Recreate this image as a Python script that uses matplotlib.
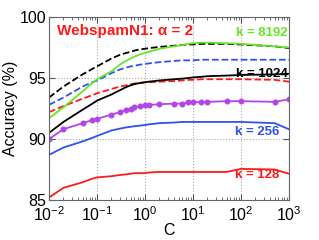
import numpy as np
import matplotlib
matplotlib.use("Agg")
import matplotlib.pyplot as plt

plt.rcParams['font.family'] = ['Liberation Sans', 'DejaVu Sans']
plt.rcParams['mathtext.fontset'] = 'custom'
plt.rcParams['mathtext.rm'] = 'Liberation Sans'
plt.rcParams['mathtext.it'] = 'Liberation Sans:italic'

# C values (log scale)
C = [0.01, 0.02, 0.05, 0.08, 0.1, 0.2, 0.3, 0.4, 0.5, 0.6, 0.8, 1, 1.2, 2,
     4, 6, 8, 10, 15, 20, 50, 100, 500, 1000]

# solid curves
acc_128 = [85.2, 86.0, 86.45, 86.75, 86.85, 86.95, 87.05, 87.1, 87.15, 87.2, 87.2, 87.2,
           87.25, 87.3, 87.3, 87.3, 87.3, 87.3, 87.3, 87.3, 87.3, 87.55, 87.5, 87.15]
acc_256 = [88.7, 89.3, 89.8, 90.1, 90.25, 90.7, 90.85, 90.95, 91.0, 91.05, 91.1, 91.15,
           91.2, 91.3, 91.35, 91.4, 91.4, 91.4, 91.4, 91.4, 91.4, 91.4, 91.3, 90.8]
acc_512 = [90.0, 90.8, 91.3, 91.55, 91.65, 92.0, 92.2, 92.4, 92.5, 92.6, 92.7, 92.75,
           92.8, 92.85, 92.9, 92.9, 93.0, 93.0, 93.05, 93.05, 93.1, 93.1, 93.05, 93.25]
acc_1024 = [90.5, 91.4, 92.4, 92.9, 93.15, 93.65, 94.0, 94.25, 94.4, 94.5, 94.6, 94.65,
            94.7, 94.8, 94.9, 94.95, 95.0, 95.05, 95.1, 95.15, 95.2, 95.25, 95.3, 95.35]
acc_8192 = [91.7, 92.6, 93.9, 94.6, 94.9, 95.55, 96.1, 96.4, 96.6, 96.75, 96.95, 97.05,
            97.15, 97.4, 97.6, 97.7, 97.8, 97.85, 97.9, 97.9, 97.85, 97.8, 97.6, 97.5]

# dashed curves
dash_red = [92.2, 92.7, 93.3, 93.6, 93.75, 94.1, 94.3, 94.4, 94.5, 94.55, 94.6, 94.65,
            94.65, 94.7, 94.75, 94.8, 94.85, 94.85, 94.9, 94.9, 94.9, 94.9, 94.85, 94.7]
dash_blue = [92.8, 93.4, 94.3, 94.65, 94.8, 95.4, 95.7, 95.85, 95.95, 96.0, 96.1, 96.15,
             96.2, 96.3, 96.4, 96.45, 96.45, 96.45, 96.5, 96.5, 96.5, 96.5, 96.5, 96.5]
dash_black = [93.4, 94.3, 95.3, 95.75, 95.95, 96.6, 96.9, 97.05, 97.15, 97.25, 97.35, 97.4,
              97.45, 97.55, 97.65, 97.7, 97.75, 97.75, 97.8, 97.8, 97.8, 97.75, 97.6, 97.45]

red = '#ff1a1a'
blue = '#2f52f0'
green = '#66e626'
purple = '#b246e8'

fig = plt.figure(figsize=(3.19, 2.4), dpi=100)
ax = fig.add_axes([0.1536, 0.1667, 0.7524, 0.7623])

ax.plot(C, dash_black, '--', color='black', lw=1.3)
ax.plot(C, dash_blue, '--', color=blue, lw=1.3)
ax.plot(C, dash_red, '--', color=red, lw=1.3)
ax.plot(C, acc_128, '-', color=red, lw=1.3)
ax.plot(C, acc_256, '-', color=blue, lw=1.3)
ax.plot(C, acc_512, '-', color=purple, lw=1.3, marker='o', ms=3.3)
ax.plot(C, acc_1024, '-', color='black', lw=1.3)
ax.plot(C, acc_8192, '-', color=green, lw=1.3)

ax.set_xscale('log')
ax.set_xlim(0.01, 1000)
ax.set_ylim(85, 100)
ax.set_yticks([85, 90, 95, 100])
ax.set_xticks([1e-2, 1e-1, 1, 10, 100, 1000])

ax.grid(True, which='major', linestyle=':', color='#aaaaaa', linewidth=0.8)
ax.tick_params(which='both', direction='in', top=True, right=True, labelsize=11.5,
               color='#555555')
ax.tick_params(axis='y', pad=2)
ax.tick_params(axis='x', pad=4)
ax.tick_params(which='major', length=4)
ax.tick_params(which='minor', length=2)
for s in ax.spines.values():
    s.set_color('#666666')

ax.set_xlabel('C', fontsize=11.5, labelpad=-1)
ax.set_ylabel('Accuracy (%)', fontsize=11.5, labelpad=1)

ax.text(0.0145, 98.85, 'WebspamN1: α = 2', color=red, fontsize=11,
        fontweight='bold', va='center')
ax.text(950, 98.7, 'k = 8192', color=green, fontsize=9.5, fontweight='bold',
        ha='right', va='center')
ax.text(950, 95.3, 'k = 1024', color='black', fontsize=9.5, fontweight='bold',
        ha='right', va='center')
ax.text(620, 90.6, 'k = 256', color=blue, fontsize=9.5, fontweight='bold',
        ha='right', va='center')
ax.text(620, 87.05, 'k = 128', color=red, fontsize=9.5, fontweight='bold',
        ha='right', va='center')

fig.savefig('out.png', dpi=100)
